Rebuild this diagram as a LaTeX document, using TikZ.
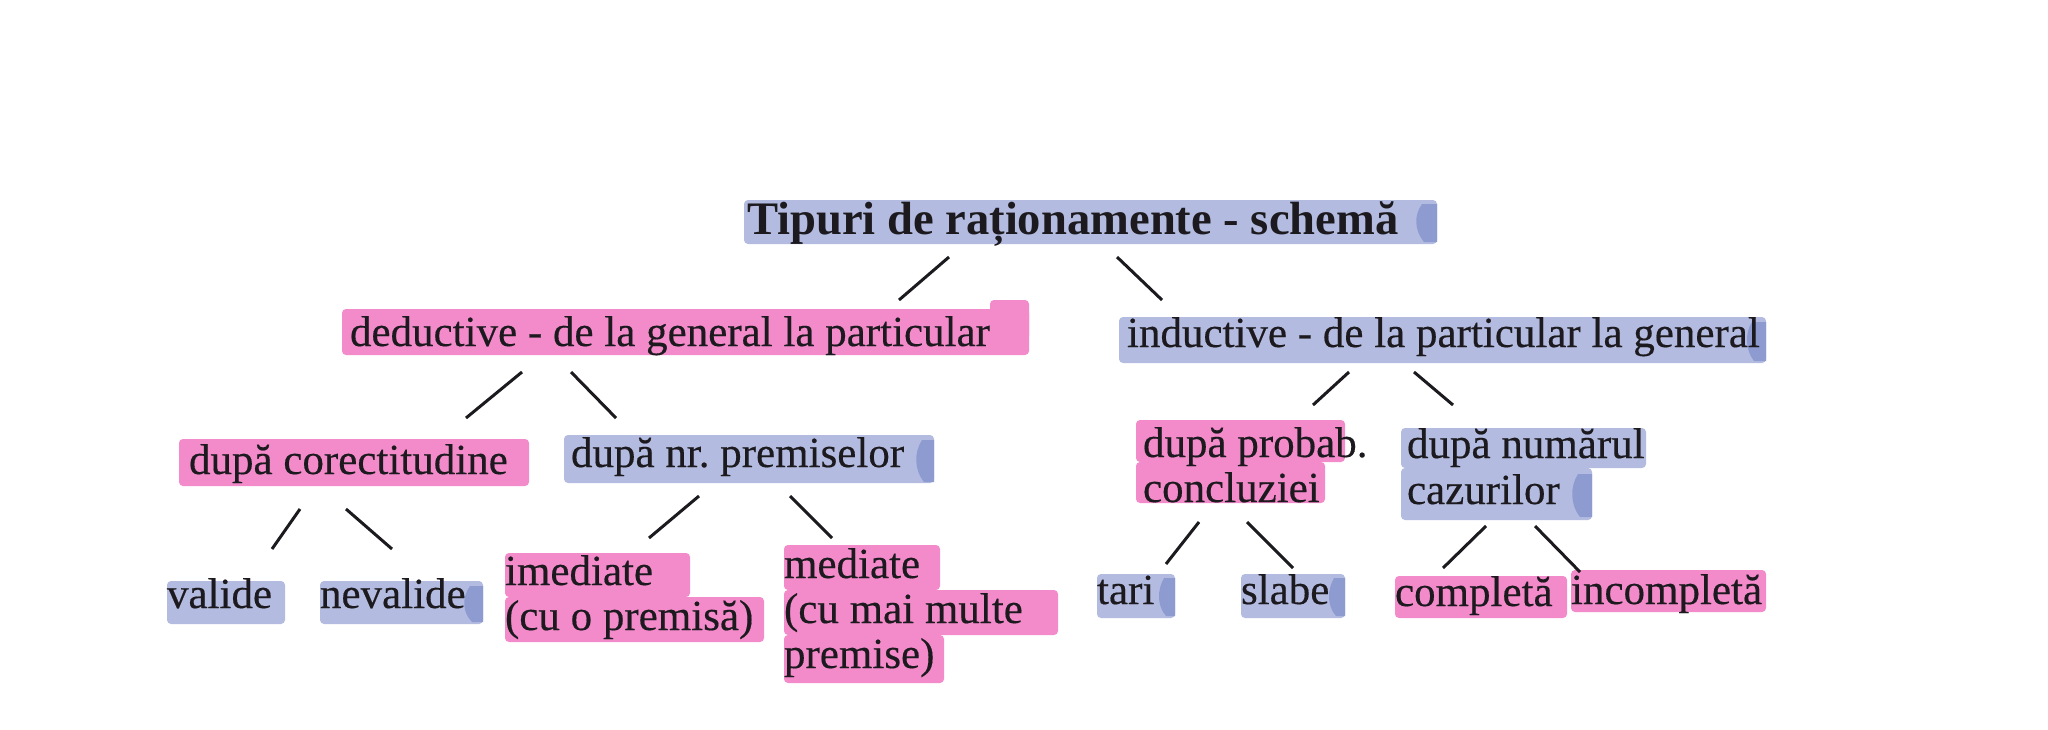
\documentclass[tikz,border=0pt]{standalone}
\usepackage{fontspec}
\setmainfont{Liberation Serif}
\newfontfamily\lblfont[FakeBold=0.35]{Liberation Serif}
\frenchspacing
\definecolor{hlblue}{HTML}{B3BCE0}
\definecolor{hlbluedk}{HTML}{8D9BD0}
\definecolor{hlpink}{HTML}{F38BCB}
\definecolor{hlpinkdk}{HTML}{EC6FBB}
\definecolor{ink}{HTML}{1C1A1E}
\begin{document}
\begin{tikzpicture}[x=0.5pt,y=-0.5pt,
  lbl/.style={anchor=base west,inner sep=0pt,outer sep=0pt,text=ink,font=\lblfont\fontsize{21.5}{22.5}\selectfont},
  ttl/.style={lbl,font=\fontsize{23.3}{24}\selectfont\bfseries},
  conn/.style={draw=ink,line width=1.5pt},
  hb/.style={fill=hlblue,draw=none,rounded corners=2pt},
  hp/.style={fill=hlpink,draw=none,rounded corners=2pt},
  tailb/.style={fill=hlbluedk,draw=none},
  tailp/.style={fill=hlpinkdk,draw=none}]
\useasboundingbox (0,0) rectangle (2048,729);
\fill[white] (0,0) rectangle (2048,729);
% highlights
\fill[hb] (744,200) rectangle (1437,244);
\fill[tailb] (1422,204) .. controls (1414,215) and (1414,230) .. (1424,242) -- (1437,242) -- (1437,204) -- cycle;
\fill[hp] (342,309) rectangle (1029,355);
\fill[hp] (990,300) rectangle (1029,340);
\fill[hb] (1119,317) rectangle (1766,363);
\fill[tailb] (1752,322) .. controls (1745,332) and (1745,350) .. (1754,361) -- (1766,361) -- (1766,322) -- cycle;
\fill[hp] (179,439) rectangle (529,486);
\fill[hb] (564,435) rectangle (934,483);
\fill[tailb] (922,440) .. controls (914,452) and (914,470) .. (924,482) -- (934,482) -- (934,440) -- cycle;
\fill[hp] (1136,420) rectangle (1345,462);
\fill[hp] (1136,462) rectangle (1325,503);
\fill[hb] (1401,428) rectangle (1646,468);
\fill[hb] (1401,468) rectangle (1592,520);
\fill[tailb] (1578,474) .. controls (1570,486) and (1570,505) .. (1580,517) -- (1592,517) -- (1592,474) -- cycle;
\fill[hb] (167,581) rectangle (285,624);
\fill[hb] (320,581) rectangle (483,624);
\fill[tailb] (470,586) .. controls (462,597) and (462,612) .. (472,622) -- (483,622) -- (483,586) -- cycle;
\fill[hp] (505,553) rectangle (690,597);
\fill[hp] (505,597) rectangle (764,642);
\fill[hp] (784,545) rectangle (940,590);
\fill[hp] (784,590) rectangle (1058,635);
\fill[hp] (784,635) rectangle (944,683);
\fill[hb] (1097,574) rectangle (1175,618);
\fill[tailb] (1164,578) .. controls (1157,590) and (1157,606) .. (1166,616) -- (1175,616) -- (1175,578) -- cycle;
\fill[hb] (1241,574) rectangle (1345,618);
\fill[tailb] (1334,578) .. controls (1327,590) and (1327,606) .. (1336,616) -- (1345,616) -- (1345,578) -- cycle;
\fill[hp] (1395,576) rectangle (1567,618);
\fill[hp] (1571,570) rectangle (1766,612);
% labels
\node[ttl] (title) at (747,234) {Tipuri de raționamente - schemă};
\node[lbl] (ded) at (350,346) {deductive - de la general la particular};
\node[lbl] (ind) at (1127,347) {inductive - de la particular la general};
\node[lbl] (cor) at (189,474) {după corectitudine};
\node[lbl] (prem) at (571,467) {după nr. premiselor};
\node[lbl] (prob1) at (1143,457) {după probab.};
\node[lbl] (prob2) at (1143,502) {concluziei};
\node[lbl] (num1) at (1407,458) {după numărul};
\node[lbl] (num2) at (1407,504) {cazurilor};
\node[lbl] (val) at (167,608) {valide};
\node[lbl] (nev) at (320,608) {nevalide};
\node[lbl] (imed1) at (505,585) {imediate};
\node[lbl] (imed2) at (505,630) {(cu o premisă)};
\node[lbl] (med1) at (784,578) {mediate};
\node[lbl] (med2) at (784,623) {(cu mai multe};
\node[lbl] (med3) at (784,668) {premise)};
\node[lbl] (tari) at (1097,604) {tari};
\node[lbl] (slabe) at (1241,604) {slabe};
\node[lbl] (compl) at (1395,606) {completă};
\node[lbl] (incompl) at (1571,604) {incompletă};
% connectors
\draw[conn] ([shift={(202,23)}]title.base west) -- ([shift={(549,-46)}]ded.base west);
\draw[conn] ([shift={(370,23)}]title.base west) -- ([shift={(35,-47)}]ind.base west);
\draw[conn] ([shift={(172,26)}]ded.base west) -- ([shift={(277,-56)}]cor.base west);
\draw[conn] ([shift={(221,26)}]ded.base west) -- ([shift={(45,-49)}]prem.base west);
\draw[conn] ([shift={(222,25)}]ind.base west) -- ([shift={(170,-52)}]prob1.base west);
\draw[conn] ([shift={(287,25)}]ind.base west) -- ([shift={(46,-53)}]num1.base west);
\draw[conn] ([shift={(111,35)}]cor.base west) -- ([shift={(105,-59)}]val.base west);
\draw[conn] ([shift={(157,35)}]cor.base west) -- ([shift={(72,-59)}]nev.base west);
\draw[conn] ([shift={(128,29)}]prem.base west) -- ([shift={(144,-47)}]imed1.base west);
\draw[conn] ([shift={(219,29)}]prem.base west) -- ([shift={(48,-40)}]med1.base west);
\draw[conn] ([shift={(56,20)}]prob2.base west) -- ([shift={(69,-40)}]tari.base west);
\draw[conn] ([shift={(104,20)}]prob2.base west) -- ([shift={(52,-36)}]slabe.base west);
\draw[conn] ([shift={(79,22)}]num2.base west) -- ([shift={(48,-38)}]compl.base west);
\draw[conn] ([shift={(128,22)}]num2.base west) -- ([shift={(9,-32)}]incompl.base west);
\end{tikzpicture}
\end{document}
